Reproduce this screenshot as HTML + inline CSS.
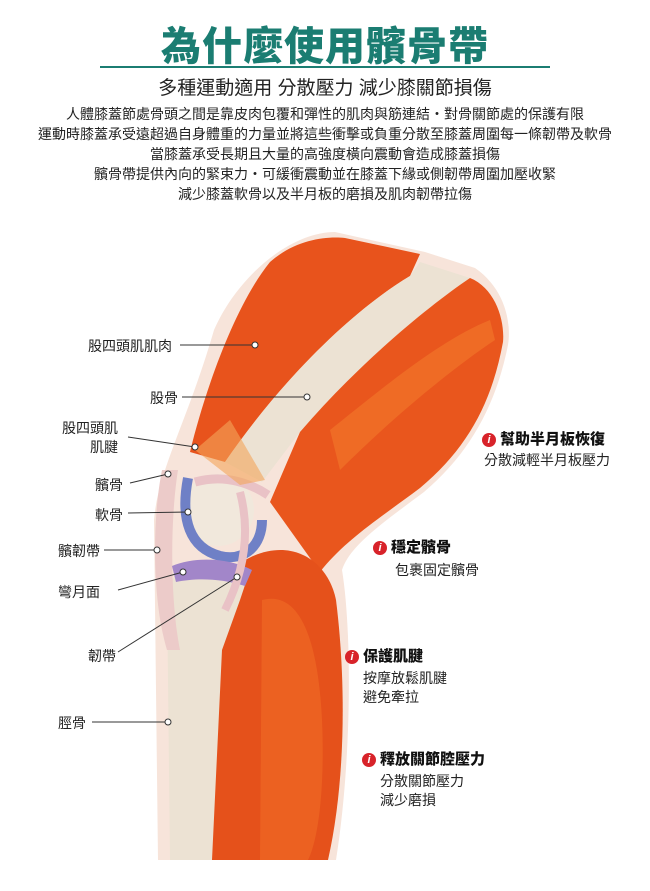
<!DOCTYPE html>
<html><head><meta charset="utf-8"><style>
body{margin:0;width:650px;height:891px;background:#fff;position:relative;overflow:hidden;font-family:"Liberation Sans","Noto Sans CJK TC",sans-serif;color:#222}
.a{position:absolute;white-space:nowrap}
.t{left:0;width:650px;text-align:center;top:14px;font-size:40px;font-weight:900;color:#1b7d72;letter-spacing:1px}
.s{left:0;width:650px;text-align:center;top:73px;font-size:19px;color:#222}
.p{left:0;width:650px;text-align:center;font-size:14px;line-height:20px;top:104px;color:#222}
.lb{font-size:14px;color:#222}
.h{font-size:15px;font-weight:900;color:#111}
.d{font-size:14px;color:#222;line-height:19px}
.i{display:inline-block;width:14px;height:14px;border-radius:50%;background:#d8232a;color:#fff;font-size:11px;font-style:italic;text-align:center;line-height:14px;margin-right:4px;vertical-align:1px}
</style></head><body>
<div class="a t">為什麼使用髕骨帶</div>
<div class="a" style="left:100px;top:66px;width:450px;height:1.5px;background:#1b7d72"></div>
<div class="a s">多種運動適用 分散壓力 減少膝關節損傷</div>
<div class="a p">人體膝蓋節處骨頭之間是靠皮肉包覆和彈性的肌肉與筋連結・對骨關節處的保護有限<br>運動時膝蓋承受遠超過自身體重的力量並將這些衝擊或負重分散至膝蓋周圍每一條韌帶及軟骨<br>當膝蓋承受長期且大量的高強度橫向震動會造成膝蓋損傷<br>髕骨帶提供內向的緊束力・可緩衝震動並在膝蓋下緣或側韌帶周圍加壓收緊<br>減少膝蓋軟骨以及半月板的磨損及肌肉韌帶拉傷</div>
<svg class="a" style="left:0;top:0" width="650" height="891">
<path d="M158,860 L154,520 C158,470 188,420 214,330 C237,277 290,232 335,232 L425,252 L475,268 C503,287 512,320 508,345 C496,405 470,453 424,492 C384,522 350,545 342,570 C352,630 352,760 336,860 Z" fill="#f7e4da"/>
<path d="M190,452 C205,390 235,305 270,262 C295,240 325,236 345,238 L420,254 L410,276 C350,312 280,382 225,462 Z" fill="#e8531c"/>
<path d="M225,462 C280,382 350,312 410,276 L420,262 L470,278 C430,305 360,362 300,432 L262,482 Z" fill="#ece2d3"/>
<path d="M300,432 C360,362 430,305 470,278 C495,288 505,320 503,342 C492,402 468,448 420,488 C380,518 345,540 320,572 L270,502 Z" fill="#e9561d"/>
<path d="M330,430 C380,390 440,340 490,320 L495,340 C450,370 390,420 340,470 Z" fill="#f47a2c" opacity=".6"/>
<path d="M245,560 C290,535 328,560 336,600 C346,680 346,780 328,860 L205,860 L220,640 Z" fill="#e5511b"/>
<path d="M262,600 C300,590 318,640 322,720 C325,790 318,840 308,860 L260,860 Z" fill="#f06d26" opacity=".6"/>
<path d="M167,590 L170,860 L212,860 L222,650 L240,600 L250,570 L180,565 Z" fill="#ece2d3"/>
<path d="M162,470 C152,520 152,600 167,650 L180,650 C170,600 170,520 178,470 Z" fill="#eccbc9"/>
<circle cx="218" cy="510" r="36" fill="#f1e8dc"/>
<path d="M188,478 C180,520 190,548 220,556 C245,562 262,545 262,520" fill="none" stroke="#6f80c6" stroke-width="10"/>
<path d="M172,566 C195,556 230,558 252,570 L245,586 C220,578 195,578 176,582Z" fill="#a286c9"/>
<path d="M195,482 C220,475 245,480 268,495" stroke="#e9c2c6" stroke-width="9" fill="none"/>
<path d="M240,492 C250,530 245,570 225,610" stroke="#e9c2c6" stroke-width="8" fill="none"/>
<path d="M195,450 L230,420 L265,480 L240,485 Z" fill="#f4a55a" opacity=".6"/>
<g stroke="#333" stroke-width="1" fill="none">
<line x1="180" y1="345" x2="255" y2="345"/><line x1="182" y1="397" x2="307" y2="397"/>
<line x1="128" y1="437" x2="195" y2="447"/><line x1="130" y1="483" x2="168" y2="474"/>
<line x1="128" y1="513" x2="188" y2="512"/><line x1="104" y1="550" x2="157" y2="550"/>
<line x1="118" y1="590" x2="183" y2="572"/><line x1="118" y1="652" x2="237" y2="577"/>
<line x1="92" y1="722" x2="168" y2="722"/>
</g>
<g fill="#fff" stroke="#333" stroke-width="1">
<circle cx="255" cy="345" r="3"/><circle cx="307" cy="397" r="3"/><circle cx="195" cy="447" r="3"/><circle cx="168" cy="474" r="3"/><circle cx="188" cy="512" r="3"/><circle cx="157" cy="550" r="3"/><circle cx="183" cy="572" r="3"/><circle cx="237" cy="577" r="3"/><circle cx="168" cy="722" r="3"/>
</g>
</svg>
<div class="a lb" style="left:88px;top:336px">股四頭肌肌肉</div>
<div class="a lb" style="left:150px;top:388px">股骨</div>
<div class="a lb" style="left:62px;top:419px;line-height:19px;text-align:right">股四頭肌<br>肌腱</div>
<div class="a lb" style="left:95px;top:475px">髕骨</div>
<div class="a lb" style="left:95px;top:505px">軟骨</div>
<div class="a lb" style="left:58px;top:541px">髕韌帶</div>
<div class="a lb" style="left:58px;top:582px">彎月面</div>
<div class="a lb" style="left:88px;top:646px">韌帶</div>
<div class="a lb" style="left:58px;top:713px">脛骨</div>
<div class="a h" style="left:482px;top:428px"><span class="i">i</span>幫助半月板恢復</div>
<div class="a d" style="left:484px;top:451px">分散減輕半月板壓力</div>
<div class="a h" style="left:373px;top:536px"><span class="i">i</span>穩定髕骨</div>
<div class="a d" style="left:395px;top:561px">包裹固定髕骨</div>
<div class="a h" style="left:345px;top:645px"><span class="i">i</span>保護肌腱</div>
<div class="a d" style="left:363px;top:669px">按摩放鬆肌腱<br>避免牽拉</div>
<div class="a h" style="left:362px;top:748px"><span class="i">i</span>釋放關節腔壓力</div>
<div class="a d" style="left:380px;top:772px">分散關節壓力<br>減少磨損</div>
</body></html>
